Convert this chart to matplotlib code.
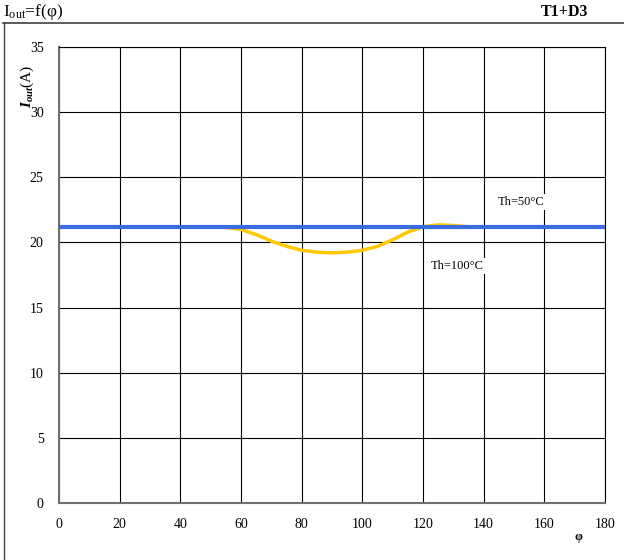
import matplotlib.pyplot as plt
from matplotlib.lines import Line2D
import numpy as np

plt.rcParams['font.family'] = ['Liberation Serif', 'DejaVu Serif']
plt.rcParams['mathtext.fontset'] = 'custom'
plt.rcParams['mathtext.rm'] = 'Liberation Serif'
plt.rcParams['mathtext.it'] = 'Liberation Serif:italic'
plt.rcParams['mathtext.bf'] = 'Liberation Serif:bold'
if 'mathtext.bfit' in plt.rcParams:
    plt.rcParams['mathtext.bfit'] = 'Liberation Serif:italic:bold'

# courbes Iout = f(phi)
phi_50 = [0, 180]
iout_50 = [21.2, 21.2]

phi_100 = [0, 50, 55, 60, 65, 70, 75, 80, 85, 90, 95, 100, 105, 110, 115, 120, 125, 130, 135, 180]
iout_100 = [21.2, 21.2, 21.15, 21.0, 20.6, 20.1, 19.7, 19.4, 19.25, 19.2, 19.25, 19.4, 19.7, 20.2, 20.8, 21.2, 21.35, 21.3, 21.2, 21.2]

xticks = list(range(0, 181, 20))
yticks = list(range(0, 36, 5))

W, H = 624, 560
fig = plt.figure(figsize=(W/100, H/100), dpi=100)
ax = fig.add_axes([59/W, 1-503/H, (605-59)/W, (503-47)/H])

ax.plot(phi_100, iout_100, color='#FFC800', lw=2.5, zorder=3)
ax.plot(phi_50, iout_50, color='#3A6BE0', lw=3, zorder=4)

ax.set_xlim(0, 180)
ax.set_ylim(0, 35)
ax.set_xticks(xticks)
ax.set_yticks(yticks)
ax.grid(True, color='black', lw=0.8)
ax.tick_params(length=0, labelsize=10)
ax.tick_params(axis='x', pad=11)
ax.tick_params(axis='y', pad=11)
for s in ['top', 'right']:
    ax.spines[s].set_color('black')
    ax.spines[s].set_linewidth(0.8)
for s in ['left', 'bottom']:
    ax.spines[s].set_color('#707070')
    ax.spines[s].set_linewidth(1.5)

bb = dict(facecolor='white', edgecolor='none', pad=1.5)
ax.text(144.5, 23.1, 'Th=50°C', fontsize=9, va='center', ha='left', bbox=bb, zorder=5)
ax.text(122.5, 18.2, 'Th=100°C', fontsize=9, va='center', ha='left', bbox=bb, zorder=5)

fig.text(27/W, 1-86/H, r'$\boldsymbol{I}_{\boldsymbol{out}}$(A)', rotation=90, fontsize=11,
         ha='center', va='center')
fig.text(578/W, 1-537/H, 'φ', fontsize=9, fontweight='bold', ha='center', va='center')

fig.text(3/W, 1-12/H, r'I$_{\mathrm{out}}$=f(φ)', fontsize=12.5, ha='left', va='center')
fig.text(588/W, 1-12/H, 'T1+D3', fontsize=11.5, fontweight='bold', ha='right', va='center')

fig.add_artist(Line2D([3/W, 1], [1-23/H, 1-23/H], color='#404040', lw=1.2))
fig.add_artist(Line2D([4/W, 4/W], [0, 1-23/H], color='#404040', lw=1))

fig.savefig('out.png', dpi=100)
